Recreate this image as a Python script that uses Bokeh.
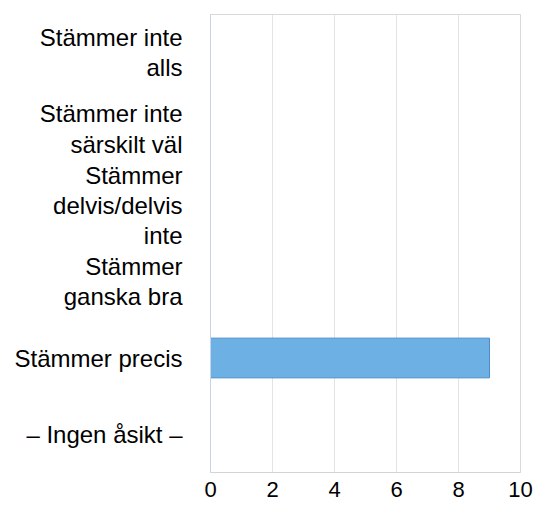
from bokeh.plotting import figure
from bokeh.models import FactorRange, FixedTicker, ColumnDataSource
from bokeh.embed import file_html
from bokeh.resources import INLINE

# Data (top to bottom as shown)
categories = [
    "Stämmer inte\nalls",
    "Stämmer inte\nsärskilt väl",
    "Stämmer\ndelvis/delvis\ninte",
    "Stämmer\nganska bra",
    "Stämmer precis",
    "– Ingen åsikt –",
]
values = [0, 0, 0, 0, 9, 0]
x_ticks = [0, 2, 4, 6, 8, 10]

FONT = "Liberation Sans"

source = ColumnDataSource(data=dict(cat=categories, val=values))

p = figure(
    width=533, height=505,
    y_range=FactorRange(factors=list(reversed(categories))),
    x_range=(0, 10),
    output_backend="svg", toolbar_location=None,
    min_border_left=210, min_border_right=13,
    min_border_top=14, min_border_bottom=33,
)

p.hbar(y="cat", right="val", left=0, height=0.52, source=source,
       fill_color="#6cb0e4", line_color="#4a8dc9", line_width=1)

p.outline_line_color = "#d9d9d9"
p.outline_line_width = 1

p.xgrid.grid_line_color = "#e3e3e3"
p.ygrid.grid_line_color = None

p.xaxis.ticker = FixedTicker(ticks=x_ticks)
p.xaxis.axis_line_color = "#d4d4d4"
p.xaxis.major_tick_line_color = None
p.xaxis.minor_tick_line_color = None
p.xaxis.major_label_text_font = FONT
p.xaxis.major_label_text_font_size = "22px"
p.xaxis.major_label_text_color = "#000000"
p.xaxis.major_label_standoff = 3

p.yaxis.axis_line_color = "#c6d3ea"
p.yaxis.major_tick_line_color = None
p.yaxis.minor_tick_line_color = None
p.yaxis.major_label_text_font = FONT
p.yaxis.major_label_text_font_size = "24px"
p.yaxis.major_label_text_line_height = 1.12
p.yaxis.major_label_text_color = "#000000"
p.yaxis.major_label_standoff = 22

open("out.html", "w").write(file_html(p, INLINE))
